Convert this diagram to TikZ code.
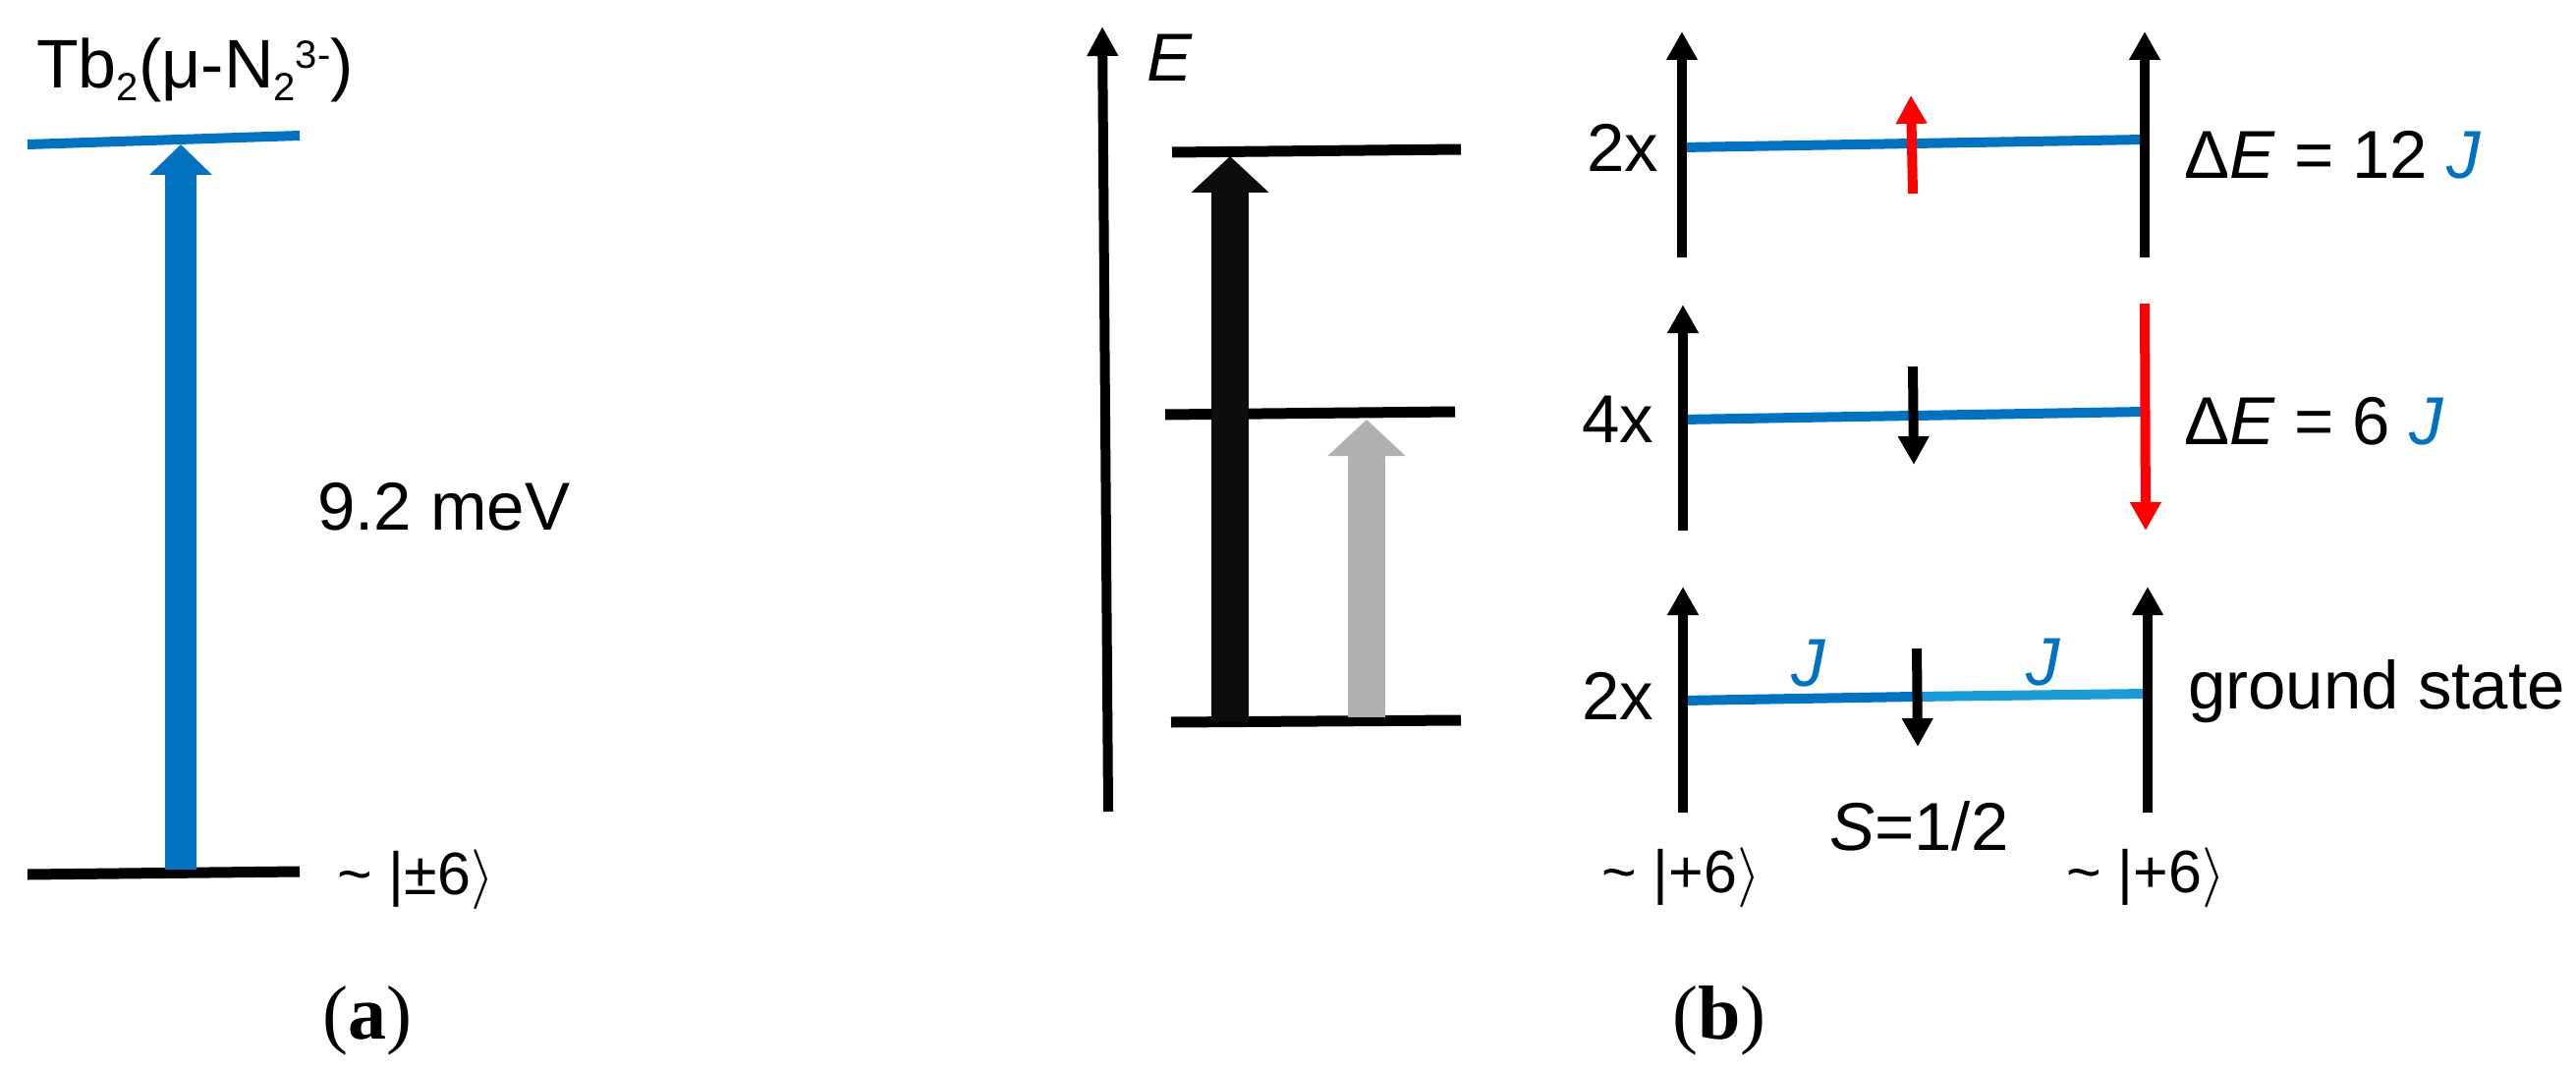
\RequirePackage{fix-cm}
\documentclass[tikz,border=0pt]{standalone}
\usepackage{fontspec}
\setmainfont{Liberation Sans}
\newfontfamily\serifb{Liberation Serif}
\usetikzlibrary{arrows.meta}
\definecolor{lvblue}{RGB}{0,114,192}
\definecolor{lvlight}{RGB}{28,156,214}
\definecolor{arrgray}{RGB}{178,175,175}
\definecolor{spinred}{RGB}{255,0,0}
\newcommand{\smallscr}[2]{\raisebox{#1}{\fontsize{40}{40}\selectfont #2}}
\begin{document}
\begin{tikzpicture}[x=1pt,y=-1pt,
  txt/.style={inner sep=0pt, anchor=base west, font=\fontsize{69}{80}\selectfont},
  ket/.style={inner sep=0pt, anchor=base west, font=\fontsize{61}{70}\selectfont},
  lab/.style={inner sep=0pt, anchor=base, font=\serifb\fontsize{78}{90}\selectfont},
  level/.style={line width=11pt},
  bluelevel/.style={line width=10pt, draw=lvblue},
  fatarrow/.style={line width=32pt, -{Triangle[length=31pt,width=62pt]}},
  widearrow/.style={line width=38pt, -{Triangle[length=37pt,width=77pt]}},
  spin/.style={line width=10pt, -{Triangle[length=29pt,width=30pt]}},
  axisarrow/.style={line width=10pt, -{Triangle[length=30pt,width=30pt]}}
  ]
\useasboundingbox (0,0) rectangle (2622,1091);

% ---------- panel (a) ----------
\coordinate (aTL) at (28,147);
\coordinate (aTR) at (305,138);
\coordinate (aBL) at (28,890);
\coordinate (aBR) at (305,887);
\coordinate (aArrS) at (184,885);
\coordinate (aArrE) at (184,147);
\draw[bluelevel] (aTL) -- (aTR);
\draw[level] (aBL) -- (aBR);
\draw[fatarrow, draw=lvblue, fill=lvblue] (aArrS) -- (aArrE);
\node[txt, font=\fontsize{70}{80}\selectfont] (tb) at (37,90) {Tb\smallscr{-13pt}{2}(μ-N\smallscr{-13pt}{2}\smallscr{20pt}{3-})};
\node[txt] (mev) at (323,539) {9.2 meV};
\node[ket] (keta) at (343,910) {\textasciitilde{} |±6$\rangle$};
\node[lab] (la) at (374,1057) {(\textbf{a})};

% ---------- panel (b), left ----------
\coordinate (axS) at (1128,826);
\coordinate (axE) at (1122,27);
\draw[axisarrow] (axS) -- (axE);
\node[txt] (elab) at (1167,83) {\textit{E}};
\coordinate (l3L) at (1193,155); \coordinate (l3R) at (1487,152);
\coordinate (l2L) at (1186,422); \coordinate (l2R) at (1481,419);
\coordinate (l1L) at (1192,735); \coordinate (l1R) at (1487,733);
\draw[level] (l3L) -- (l3R);
\draw[level] (l2L) -- (l2R);
\draw[level] (l1L) -- (l1R);
\coordinate (bkS) at (1252,734); \coordinate (bkE) at (1252,159);
\coordinate (gyS) at (1391,730); \coordinate (gyE) at (1391,427);
\draw[widearrow, draw=black!95, fill=black!95] (bkS) -- (bkE);
\draw[widearrow, draw=arrgray, fill=arrgray] (gyS) -- (gyE);

% ---------- panel (b), right ----------
% top row
\coordinate (r3L) at (1712,150); \coordinate (r3R) at (2183,142);
\draw[bluelevel] (r3L) -- (r3R);
\coordinate (v3aS) at (1712,262); \coordinate (v3aE) at (1712,32);
\coordinate (v3bS) at (2183,262); \coordinate (v3bE) at (2183,32);
\draw[spin] (v3aS) -- (v3aE);
\draw[spin] (v3bS) -- (v3bE);
\coordinate (rs3S) at (1947,197); \coordinate (rs3E) at (1945,97);
\draw[spin, draw=spinred, fill=spinred] (rs3S) -- (rs3E);
\node[txt] (m3) at (1615,175) {2x};
\node[txt] (de12) at (2223,182) {Δ\textit{E} = 12 \textcolor{lvblue}{\textit{J}}};

% middle row
\coordinate (r2L) at (1712,427); \coordinate (r2R) at (2183,419);
\draw[bluelevel] (r2L) -- (r2R);
\coordinate (v2aS) at (1713,540); \coordinate (v2aE) at (1713,310);
\coordinate (v2bS) at (2183,309); \coordinate (v2bE) at (2184,540);
\draw[spin] (v2aS) -- (v2aE);
\draw[spin, draw=spinred, fill=spinred] (v2bS) -- (v2bE);
\coordinate (s2S) at (1947,373); \coordinate (s2E) at (1948,473);
\draw[spin] (s2S) -- (s2E);
\node[txt] (m2) at (1610,450) {4x};
\node[txt] (de6) at (2223,452) {Δ\textit{E} = 6 \textcolor{lvblue}{\textit{J}}};

% bottom row
\coordinate (r1L) at (1712,713); \coordinate (r1M) at (1949,709); \coordinate (r1R) at (2186,706);
\draw[bluelevel] (r1L) -- (r1M);
\draw[line width=10pt, draw=lvlight] (r1M) -- (r1R);
\coordinate (v1aS) at (1713,827); \coordinate (v1aE) at (1713,597);
\coordinate (v1bS) at (2186,827); \coordinate (v1bE) at (2186,597);
\draw[spin] (v1aS) -- (v1aE);
\draw[spin] (v1bS) -- (v1bE);
\coordinate (s1S) at (1951,660); \coordinate (s1E) at (1952,760);
\draw[spin] (s1S) -- (s1E);
\node[txt, text=lvblue] (j1) at (1823,698) {\textit{J}};
\node[txt, text=lvblue] (j2) at (2062,697) {\textit{J}};
\node[txt] (m1) at (1610,732) {2x};
\node[txt] (gs) at (2227,721) {ground state};
\node[txt] (spin) at (1862,865) {\textit{S}=1/2};
\node[ket] (ketl) at (1630,908) {\textasciitilde{} |+6$\rangle$};
\node[ket] (ketr) at (2103,908) {\textasciitilde{} |+6$\rangle$};
\node[lab] (lb) at (1750,1057) {(\textbf{b})};
\end{tikzpicture}
\end{document}
